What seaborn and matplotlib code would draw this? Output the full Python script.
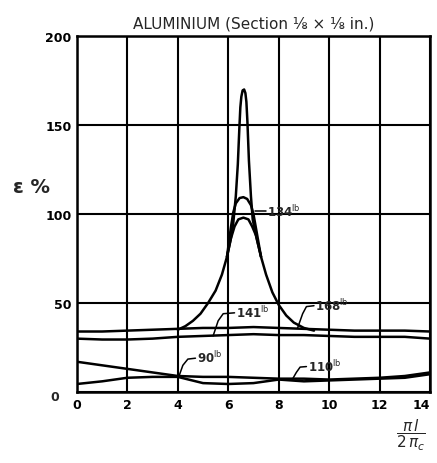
import matplotlib
matplotlib.use("Agg")
import matplotlib.pyplot as plt
import seaborn as sns
import numpy as np
import pandas as pd

sns.set_theme(style="white")
plt.rcParams['font.family'] = ['DejaVu Sans']

# ---- data ----
x_flat = [0, 1, 2, 3, 4, 5, 6, 7, 8, 9, 10, 11, 12, 13, 14]
y_168 = [34, 34, 34.5, 35, 35.5, 36, 36, 36.5, 36, 35.5, 35, 34.5, 34.5, 34.5, 34]
y_141 = [30, 29.5, 29.5, 30, 31, 31.5, 32, 32.5, 32, 32, 31.5, 31, 31, 31, 30]
y_90 = [17, 15, 13, 11, 9, 8.5, 8.5, 8, 7.5, 7.5, 7, 7.5, 8, 9, 11]
y_110 = [4.5, 6, 8, 8.5, 8.5, 5, 4.5, 5, 7, 6, 6.5, 7, 7.5, 8, 10]

x_spike = [4.0, 4.3, 4.6, 4.9, 5.2, 5.5, 5.75, 5.95, 6.1, 6.2, 6.3, 6.38, 6.44, 6.48, 6.52, 6.57, 6.63, 6.68, 6.72, 6.76, 6.82, 6.9, 6.97, 7.1, 7.3, 7.5, 7.75, 8.0, 8.3, 8.6, 9.0, 9.4]
y_spike = [35, 37, 40, 44, 50, 57, 66, 76, 86, 95, 110, 128, 148, 160, 166, 169.5, 170, 168, 163, 152, 130, 110, 97, 88, 76, 66, 56, 49, 43, 39, 36, 34.5]

x_134 = [5.95, 6.1, 6.2, 6.3, 6.45, 6.6, 6.75, 6.9, 7.0, 7.1, 7.3]
y_134 = [76, 92, 101, 106, 109, 109.5, 108.5, 105, 100, 92, 76]

x_low = [5.95, 6.1, 6.25, 6.4, 6.6, 6.8, 6.95, 7.1, 7.3]
y_low = [76, 86, 93, 97, 98, 97, 93, 88, 76]

loads = ["134", "141", "168", "90", "110"]

fig = plt.figure(figsize=(4.37, 4.64), dpi=100)
ax = fig.add_axes([0.176, 0.153, 0.808, 0.767])

kw = dict(color="black", linewidth=1.8, ax=ax, legend=False)
sns.lineplot(x=x_flat, y=y_168, **kw)
sns.lineplot(x=x_flat, y=y_141, **kw)
sns.lineplot(x=x_flat, y=y_90, **kw)
sns.lineplot(x=x_flat, y=y_110, **kw)
sns.lineplot(x=x_spike, y=y_spike, sort=False, **kw)
sns.lineplot(x=x_134, y=y_134, sort=False, **kw)
sns.lineplot(x=x_low, y=y_low, sort=False, **kw)

ax.set_xlim(0, 14)
ax.set_ylim(0, 200)
ax.set_xticks(range(0, 15, 2))
ax.set_yticks([0, 50, 100, 150, 200])
ax.set_yticklabels(["", "50", "100", "150", "200"])
ax.grid(True, color="black", linewidth=1.5)
for s in ax.spines.values():
    s.set_color("black")
    s.set_linewidth(1.8)
ax.tick_params(axis="both", length=0, labelsize=9, colors="black", pad=4)
ax.text(-0.05, -0.012, "0", transform=ax.transAxes, ha="right", va="center", fontsize=9, fontweight="bold")
for lab in ax.get_xticklabels() + ax.get_yticklabels():
    lab.set_fontweight("bold")
xl = ax.get_xticklabels()
xl[-1].set_horizontalalignment("right")
xl[-1].set_x(14.25)

ax.set_title("ALUMINIUM (Section ⅛ × ⅛ in.)", fontsize=11, pad=6)
fig.text(0.03, 0.595, "ε %", fontsize=14, fontweight="bold", ha="left", va="center")
fig.text(0.94, 0.062, r"$\dfrac{\pi\,l}{2\,\pi_c}$", fontsize=11, ha="center", va="center")

# annotations
def label(txt, tx, ty, path_x, path_y):
    ax.plot(path_x, path_y, color="black", linewidth=1.1)
    ax.text(tx, ty, txt + r"$^{\mathrm{lb}}$", fontsize=8.5, ha="left", va="center", fontweight="bold")

label(loads[0], 7.55, 101.5, [7.05, 7.5], [101.5, 101.5])
label(loads[1], 6.3, 45, [5.4, 5.6, 5.8, 6.25], [31.5, 40, 44, 44.5])
label(loads[2], 9.45, 49, [8.75, 8.95, 9.1, 9.4], [36, 44, 48, 48.5])
label(loads[3], 4.75, 19.5, [4.05, 4.2, 4.4, 4.7], [9, 15, 18.5, 19])
label(loads[4], 9.15, 14.5, [8.55, 8.7, 8.85, 9.1], [7.3, 11, 14, 14.3])

fig.savefig("out.png", dpi=100, facecolor="white")
